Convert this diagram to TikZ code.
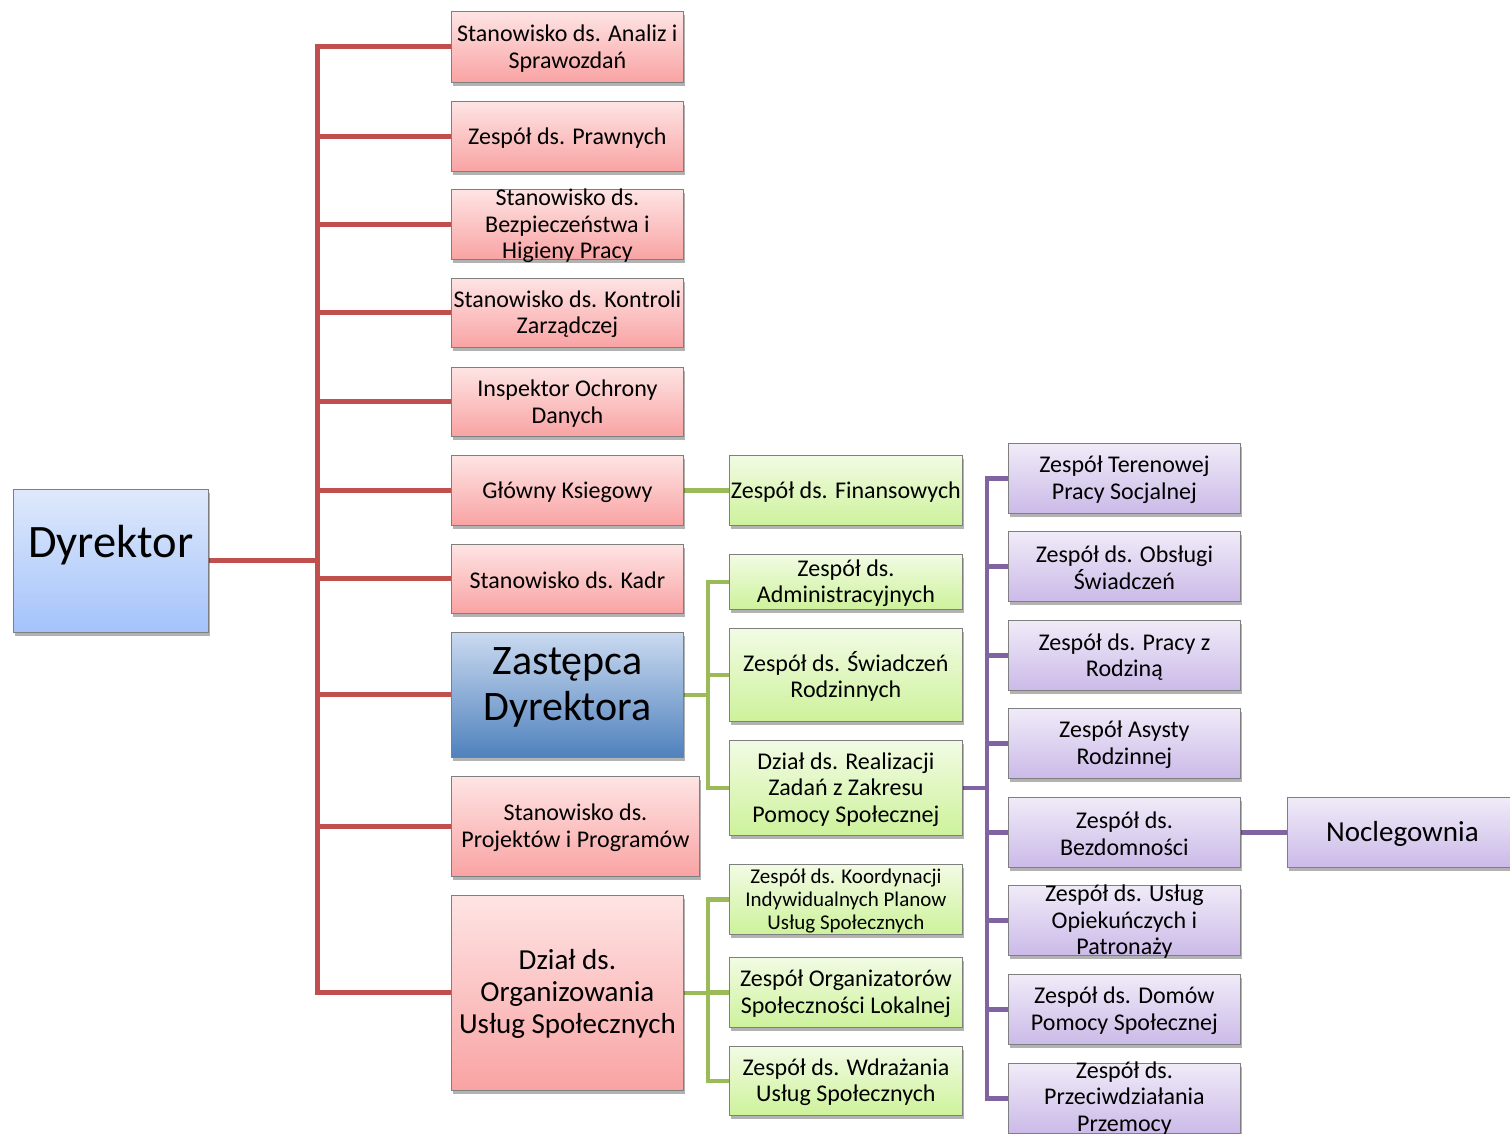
\documentclass[tikz,border=0pt]{standalone}
\usepackage{fontspec}
\setmainfont{Carlito}
\usetikzlibrary{shadows,backgrounds}
\definecolor{redln}{HTML}{C0504D}
\definecolor{greenln}{HTML}{9BBB59}
\definecolor{purpln}{HTML}{8064A2}
\definecolor{bordc}{HTML}{7F7F7F}
\tikzset{
  box/.style={draw=bordc, line width=0.8pt, inner sep=0pt, anchor=north west,
    drop shadow={shadow xshift=1.5pt, shadow yshift=-3.5pt, opacity=0.3, fill=black}},
  rbx/.style={box, top color={rgb,255:red,254;green,228;blue,228}, bottom color={rgb,255:red,249;green,163;blue,163}},
  bbx/.style={box, top color={rgb,255:red,223;green,233;blue,251}, bottom color={rgb,255:red,164;green,195;blue,251}},
  zbx/.style={box, top color={rgb,255:red,202;green,218;blue,240}, bottom color={rgb,255:red,79;green,129;blue,189}},
  gbx/.style={box, top color={rgb,255:red,242;green,251;blue,228}, bottom color={rgb,255:red,205;green,242;blue,155}},
  pbx/.style={box, top color={rgb,255:red,240;green,235;blue,248}, bottom color={rgb,255:red,203;green,186;blue,232}},
  txt/.style={align=center, inner sep=0pt, yshift=-1.5pt, font=\fontsize{24}{26.5}\selectfont},
  rline/.style={draw=redln, line width=5pt},
  gline/.style={draw=greenln, line width=4.5pt},
  pline/.style={draw=purpln, line width=4.5pt},
}
\newcommand{\bx}[8]{%
  \node[#2, minimum width=#5pt, minimum height=#6pt] (#1) at (#3,#4) {};
  \node[txt,#8] (#1-t) at (#1.center) {#7};}
\begin{document}
\begin{tikzpicture}[x=1pt,y=-1pt]
\useasboundingbox (0,0) rectangle (1510,1134);
% Dyrektor
\bx{dyr}{bbx}{13}{489}{195}{143}{Dyrektor}{font=\fontsize{46.5}{50}\selectfont, yshift=17pt}
% red column
\bx{r1}{rbx}{451}{11}{232}{71}{Stanowisko ds. Analiz i\\Sprawozdań}{}
\bx{r2}{rbx}{451}{101}{232}{70}{Zespół ds. Prawnych}{}
\bx{r3}{rbx}{451}{189}{232}{70}{Stanowisko ds.\\Bezpieczeństwa i\\Higieny Pracy}{}
\bx{r4}{rbx}{451}{278}{232}{69}{Stanowisko ds. Kontroli\\Zarządczej}{}
\bx{r5}{rbx}{451}{367}{232}{69}{Inspektor Ochrony\\Danych}{}
\bx{r6}{rbx}{451}{455}{232}{70}{Główny Ksiegowy}{}
\bx{r7}{rbx}{451}{544}{232}{69}{Stanowisko ds. Kadr}{}
\bx{zast}{zbx}{451}{632}{232}{125}{Zastępca\\Dyrektora}{font=\fontsize{42}{46}\selectfont, yshift=9pt}
\bx{r9}{rbx}{451}{776}{248}{100}{Stanowisko ds.\\Projektów i Programów}{}
\bx{dzial}{rbx}{451}{895}{232}{195}{Dział ds.\\Organizowania\\Usług Społecznych}{font=\fontsize{29}{32}\selectfont}
% green column
\bx{g1}{gbx}{729}{455}{233}{70}{Zespół ds. Finansowych}{}
\bx{g2}{gbx}{729}{554}{233}{55}{Zespół ds.\\Administracyjnych}{}
\bx{g3}{gbx}{729}{628}{233}{93}{Zespół ds. Świadczeń\\Rodzinnych}{}
\bx{g4}{gbx}{729}{740}{233}{95}{Dział ds. Realizacji\\Zadań z Zakresu\\Pomocy Społecznej}{}
\bx{g5}{gbx}{729}{864}{233}{70}{Zespół ds. Koordynacji\\Indywidualnych Planow\\Usług Społecznych}{font=\fontsize{21}{23}\selectfont}
\bx{g6}{gbx}{729}{957}{233}{70}{Zespół Organizatorów\\Społeczności Lokalnej}{}
\bx{g7}{gbx}{729}{1046}{233}{69}{Zespół ds. Wdrażania\\Usług Społecznych}{}
% purple column
\bx{p1}{pbx}{1008}{443}{232}{70}{Zespół Terenowej\\Pracy Socjalnej}{}
\bx{p2}{pbx}{1008}{531}{232}{70}{Zespół ds. Obsługi\\Świadczeń}{}
\bx{p3}{pbx}{1008}{620}{232}{70}{Zespół ds. Pracy z\\Rodziną}{}
\bx{p4}{pbx}{1008}{708}{232}{70}{Zespół Asysty\\Rodzinnej}{}
\bx{p5}{pbx}{1008}{797}{232}{70}{Zespół ds.\\Bezdomności}{}
\bx{p6}{pbx}{1008}{885}{232}{70}{Zespół ds. Usług\\Opiekuńczych i\\Patronaży}{}
\bx{p7}{pbx}{1008}{974}{232}{70}{Zespół ds. Domów\\Pomocy Społecznej}{}
\bx{p8}{pbx}{1008}{1063}{232}{70}{Zespół ds.\\Przeciwdziałania\\Przemocy}{yshift=1.5pt}
\bx{nocl}{pbx}{1287}{797}{230}{70}{Noclegownia}{font=\fontsize{29}{32}\selectfont}
% connectors
\begin{pgfonlayer}{background}
\path (dyr.east) ++(109,0) coordinate (rt);
\foreach \n in {r1,r2,r3,r4,r5,r6,r7,zast,r9,dzial}
  \draw[rline] (dyr.east) -- (rt) |- (\n.west);
\draw[gline] (r6.east) -- (g1.west);
\path (zast.east) ++(24,0) coordinate (gt);
\foreach \n in {g2,g3,g4}
  \draw[gline] (zast.east) -- (gt) |- (\n.west);
\path (dzial.east) ++(24,0) coordinate (gt2);
\foreach \n in {g5,g6,g7}
  \draw[gline] (dzial.east) -- (gt2) |- (\n.west);
\path (g4.east) ++(24,0) coordinate (pt);
\foreach \n in {p1,p2,p3,p4,p5,p6,p7,p8}
  \draw[pline] (g4.east) -- (pt) |- (\n.west);
\draw[pline] (p5.east) -- (nocl.west);
\end{pgfonlayer}
\end{tikzpicture}
\end{document}
